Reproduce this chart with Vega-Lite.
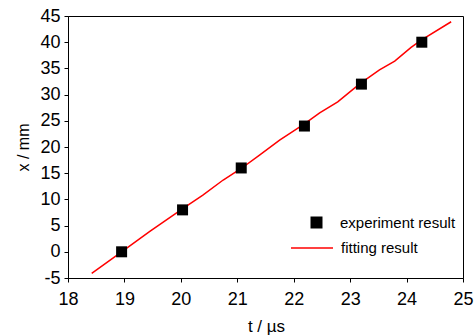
{
  "$schema": "https://vega.github.io/schema/vega-lite/v6.json",
  "width": 395,
  "height": 262,
  "autosize": {"type": "none"},
  "padding": {"left": 68, "top": 16, "right": 13, "bottom": 57},
  "background": "white",
  "config": {
    "font": "Liberation Sans",
    "view": {"stroke": "black", "strokeWidth": 1},
    "axis": {
      "grid": false,
      "domainColor": "black",
      "tickColor": "black",
      "labelColor": "black",
      "titleColor": "black",
      "labelFontSize": 18,
      "titleFontSize": 17,
      "titleFontWeight": "normal",
      "tickSize": 4,
      "domainWidth": 1,
      "tickWidth": 1,
      "labelOverlap": false,
      "labelFlush": false
    },
    "legend": {"padding": 0, "labelColor": "black", "labelFontSize": 15, "labelFont": "Liberation Sans"}
  },
  "datasets": {
    "exp": [
      {"t": 18.95, "x": 0, "series": "experiment result"},
      {"t": 20.03, "x": 8, "series": "experiment result"},
      {"t": 21.07, "x": 16, "series": "experiment result"},
      {"t": 22.19, "x": 24, "series": "experiment result"},
      {"t": 23.2, "x": 32, "series": "experiment result"},
      {"t": 24.27, "x": 40, "series": "experiment result"}
    ],
    "fit": [
      {"t": 18.42, "x": -4.1, "series": "fitting result"},
      {"t": 18.95, "x": 0.0, "series": "fitting result"},
      {"t": 19.45, "x": 3.9, "series": "fitting result"},
      {"t": 20.04, "x": 8.3, "series": "fitting result"},
      {"t": 20.39, "x": 10.8, "series": "fitting result"},
      {"t": 20.75, "x": 13.7, "series": "fitting result"},
      {"t": 21.07, "x": 15.9, "series": "fitting result"},
      {"t": 21.4, "x": 18.5, "series": "fitting result"},
      {"t": 21.75, "x": 21.3, "series": "fitting result"},
      {"t": 22.19, "x": 24.4, "series": "fitting result"},
      {"t": 22.46, "x": 26.5, "series": "fitting result"},
      {"t": 22.78, "x": 28.6, "series": "fitting result"},
      {"t": 23.05, "x": 31.0, "series": "fitting result"},
      {"t": 23.2, "x": 32.3, "series": "fitting result"},
      {"t": 23.52, "x": 34.7, "series": "fitting result"},
      {"t": 23.79, "x": 36.4, "series": "fitting result"},
      {"t": 24.08, "x": 39.0, "series": "fitting result"},
      {"t": 24.26, "x": 40.4, "series": "fitting result"},
      {"t": 24.79, "x": 43.9, "series": "fitting result"}
    ]
  },
  "encoding": {
    "x": {
      "field": "t", "type": "quantitative",
      "scale": {"domain": [18, 25], "nice": false, "zero": false},
      "axis": {"values": [18, 19, 20, 21, 22, 23, 24, 25], "format": "d", "labelOverlap": false, "title": "t / µs", "labelPadding": 8, "titleX": 198, "titleY": 53, "titleBaseline": "alphabetic", "titleAnchor": "middle"}
    },
    "y": {
      "field": "x", "type": "quantitative",
      "scale": {"domain": [-5, 45], "nice": false, "zero": false},
      "axis": {"values": [-5, 0, 5, 10, 15, 20, 25, 30, 35, 40, 45], "labelExpr": "'' + datum.value", "labelOverlap": false, "labelSeparation": 0, "title": "x / mm", "labelPadding": 4, "titleFontSize": 16, "titleX": -37, "titleY": 131, "titleAnchor": "middle"}
    }
  },
  "layer": [
    {
      "data": {"name": "fit"},
      "mark": {"type": "line", "strokeWidth": 1.5},
      "encoding": {
        "color": {
          "field": "series", "type": "nominal",
          "scale": {"range": ["#ff0000"]},
          "legend": {"orient": "none", "legendX": 222, "legendY": 210, "title": null, "symbolType": "stroke", "symbolSize": 1764, "symbolStrokeWidth": 1.5, "labelOffset": 7}
        }
      }
    },
    {
      "data": {"name": "exp"},
      "mark": {"type": "point", "shape": "square", "filled": true, "size": 121, "opacity": 1, "color": "black"},
      "encoding": {
        "shape": {
          "field": "series", "type": "nominal",
          "scale": {"range": ["square"]},
          "legend": {"orient": "none", "legendX": 241, "legendY": 199, "title": null, "symbolSize": 144, "symbolFillColor": "black", "symbolStrokeWidth": 0, "symbolOpacity": 1, "labelOffset": 16}
        }
      }
    }
  ]
}
